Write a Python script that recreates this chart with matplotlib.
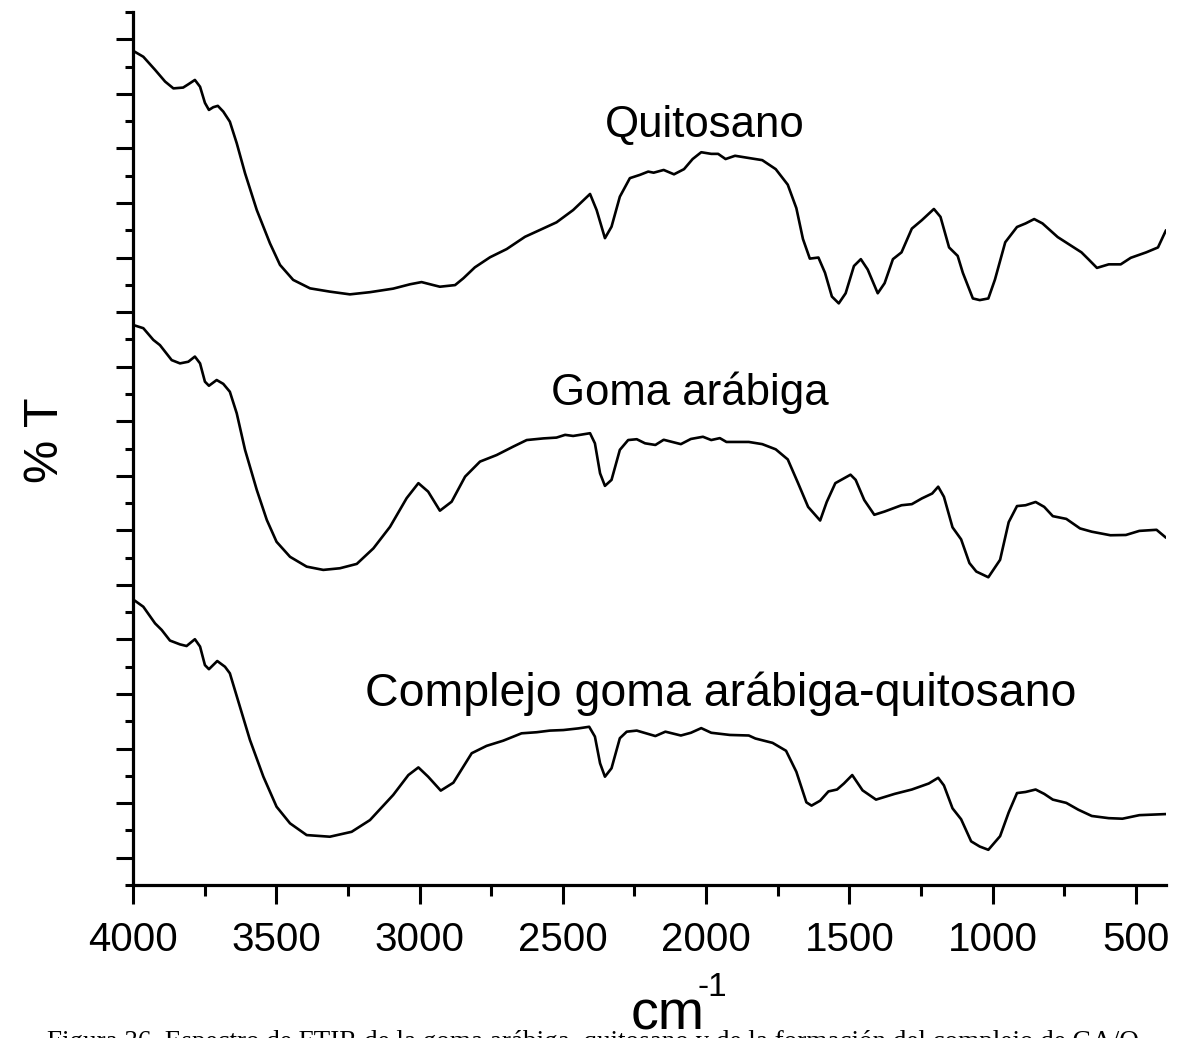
import matplotlib
matplotlib.use("Agg")
import matplotlib.pyplot as plt
from matplotlib.ticker import MultipleLocator, FixedLocator

# ---------------- data ----------------
wn_quitosano = [4000, 3964, 3923, 3888, 3859, 3825, 3807, 3784, 3766, 3749, 3735, 3720, 3704, 3685,
                3662, 3638, 3609, 3568, 3522, 3487, 3441, 3382, 3313, 3243, 3173, 3092, 3033, 2993,
                2952, 2929, 2876, 2847, 2807, 2754, 2696, 2632, 2580, 2522, 2464, 2405, 2382, 2353,
                2330, 2301, 2266, 2231, 2202, 2183, 2148, 2112, 2077, 2047, 2017, 1982, 1958, 1932,
                1899, 1840, 1804, 1757, 1715, 1685, 1662, 1638, 1608, 1585, 1561, 1537, 1513, 1484,
                1460, 1436, 1401, 1377, 1348, 1318, 1282, 1247, 1205, 1182, 1152, 1122, 1104, 1069,
                1045, 1015, 992, 956, 915, 885, 855, 826, 773, 690, 666, 636, 595, 553, 518, 464,
                423, 395]
t_quitosano = [30.58, 30.36, 29.88, 29.45, 29.20, 29.23, 29.35, 29.51, 29.26, 28.67, 28.41, 28.51,
               28.56, 28.35, 27.98, 27.19, 26.09, 24.74, 23.52, 22.73, 22.18, 21.87, 21.75, 21.65,
               21.73, 21.86, 22.02, 22.10, 21.99, 21.93, 21.99, 22.24, 22.64, 23.01, 23.31, 23.76,
               24.01, 24.29, 24.74, 25.33, 24.74, 23.71, 24.13, 25.23, 25.91, 26.03, 26.15, 26.11,
               26.21, 26.05, 26.24, 26.61, 26.86, 26.80, 26.80, 26.61, 26.73, 26.63, 26.57, 26.24,
               25.67, 24.81, 23.68, 22.96, 23.00, 22.44, 21.57, 21.32, 21.69, 22.69, 22.94, 22.56,
               21.69, 22.06, 22.94, 23.19, 24.06, 24.37, 24.78, 24.49, 23.37, 23.06, 22.44, 21.50,
               21.44, 21.50, 22.19, 23.56, 24.12, 24.25, 24.41, 24.25, 23.75, 23.19, 22.94, 22.62,
               22.75, 22.75, 22.99, 23.19, 23.37, 24.00]

wn_goma = [4000, 3964, 3929, 3906, 3865, 3836, 3807, 3784, 3766, 3749, 3735, 3708, 3685, 3662,
           3638, 3609, 3568, 3533, 3499, 3452, 3394, 3336, 3278, 3219, 3161, 3103, 3045, 3004,
           2970, 2929, 2888, 2841, 2789, 2731, 2673, 2626, 2568, 2522, 2492, 2464, 2405, 2388,
           2370, 2353, 2330, 2301, 2272, 2242, 2213, 2177, 2148, 2088, 2053, 2011, 1982, 1952,
           1929, 1851, 1804, 1757, 1715, 1679, 1644, 1602, 1579, 1549, 1496, 1478, 1448, 1413,
           1377, 1318, 1282, 1247, 1211, 1190, 1170, 1140, 1110, 1081, 1057, 1015, 974, 944,
           915, 885, 850, 820, 790, 743, 695, 654, 589, 535, 488, 428, 395]
t_goma = [20.53, 20.41, 19.98, 19.79, 19.24, 19.12, 19.18, 19.37, 19.12, 18.45, 18.30, 18.51, 18.37,
          18.08, 17.29, 15.95, 14.48, 13.38, 12.58, 12.03, 11.67, 11.55, 11.61, 11.77, 12.34, 13.13,
          14.18, 14.73, 14.42, 13.72, 14.05, 14.97, 15.52, 15.76, 16.07, 16.31, 16.37, 16.40, 16.50,
          16.46, 16.56, 16.19, 15.09, 14.63, 14.85, 15.95, 16.31, 16.34, 16.19, 16.13, 16.32, 16.16,
          16.35, 16.43, 16.31, 16.38, 16.24, 16.24, 16.16, 15.97, 15.60, 14.73, 13.86, 13.36, 14.04,
          14.73, 15.04, 14.85, 14.11, 13.57, 13.69, 13.92, 13.96, 14.17, 14.35, 14.60, 14.23, 13.11,
          12.67, 11.80, 11.49, 11.28, 11.92, 13.30, 13.89, 13.92, 14.04, 13.86, 13.52, 13.42, 13.07,
          12.95, 12.82, 12.83, 12.98, 13.02, 12.73]

wn_complejo = [4000, 3964, 3923, 3900, 3871, 3836, 3813, 3784, 3766, 3749, 3735, 3706, 3679, 3662,
               3627, 3592, 3545, 3499, 3452, 3394, 3313, 3237, 3173, 3092, 3039, 3004, 2970, 2926,
               2882, 2818, 2766, 2708, 2644, 2591, 2545, 2498, 2446, 2408, 2388, 2370, 2353, 2330,
               2301, 2277, 2242, 2177, 2142, 2088, 2053, 2017, 1982, 1917, 1851, 1828, 1768, 1721,
               1685, 1650, 1632, 1602, 1573, 1543, 1519, 1490, 1454, 1407, 1342, 1282, 1223, 1190,
               1170, 1140, 1110, 1075, 1045, 1015, 974, 944, 915, 885, 850, 820, 790, 743, 701, 654,
               595, 547, 488, 395]
t_complejo = [10.47, 10.20, 9.59, 9.35, 8.96, 8.82, 8.76, 9.01, 8.74, 8.06, 7.91, 8.21, 8.00, 7.76,
              6.54, 5.32, 3.97, 2.87, 2.26, 1.83, 1.77, 1.95, 2.38, 3.30, 4.03, 4.31, 3.97, 3.46,
              3.75, 4.83, 5.10, 5.29, 5.56, 5.60, 5.66, 5.68, 5.74, 5.80, 5.44, 4.46, 3.97, 4.28,
              5.38, 5.62, 5.66, 5.46, 5.62, 5.48, 5.58, 5.75, 5.58, 5.50, 5.48, 5.37, 5.21, 4.92,
              4.15, 3.03, 2.91, 3.09, 3.43, 3.50, 3.72, 4.03, 3.47, 3.13, 3.34, 3.50, 3.72, 3.93,
              3.65, 2.81, 2.41, 1.60, 1.41, 1.29, 1.79, 2.66, 3.37, 3.41, 3.50, 3.34, 3.13, 3.01,
              2.76, 2.53, 2.45, 2.43, 2.56, 2.60]

labels = ["Quitosano", "Goma arábiga", "Complejo goma arábiga-quitosano"]
label_pos = [(2004, 27.85), (2056, 18.05), (1948, 7.0)]
label_size = [31.5, 31.5, 33.5]
x_ticks = [4000, 3500, 3000, 2500, 2000, 1500, 1000, 500]
caption = ("Figura 36. Espectro de FTIR de la goma arábiga, quitosano y de la "
           "formación del complejo de GA/Q")

# ---------------- figure ----------------
W, H = 1178, 1038
fig = plt.figure(figsize=(W / 100, H / 100), dpi=100)
L, R, T, B = 133, 1166, 12, 885
ax = fig.add_axes([L / W, (H - B) / H, (R - L) / W, (B - T) / H])

font = "Liberation Sans"
for wn, t in [(wn_quitosano, t_quitosano), (wn_goma, t_goma), (wn_complejo, t_complejo)]:
    ax.plot(wn, t, color="black", lw=1.9, solid_joinstyle="round", solid_capstyle="round")

ax.set_xlim(4000, 395)
ax.set_ylim(0, 32)

for s in ["top", "right"]:
    ax.spines[s].set_visible(False)
for s in ["left", "bottom"]:
    ax.spines[s].set_linewidth(2.3)

ax.xaxis.set_major_locator(FixedLocator(x_ticks))
ax.xaxis.set_minor_locator(MultipleLocator(250))
ax.yaxis.set_major_locator(FixedLocator(list(range(1, 32, 2))))
ax.yaxis.set_minor_locator(FixedLocator(list(range(0, 33, 2))))
ax.set_xticklabels([str(v) for v in x_ticks], fontfamily=font, fontsize=29)
ax.set_yticklabels([])
ax.tick_params(axis="x", which="major", direction="out", length=14, width=2.2, pad=12)
ax.tick_params(axis="x", which="minor", direction="out", length=8, width=2.2)
ax.tick_params(axis="y", which="major", direction="out", length=12, width=2.2)
ax.tick_params(axis="y", which="minor", direction="out", length=6, width=2.2)

for lab, (x, y), fs in zip(labels, label_pos, label_size):
    ax.text(x, y, lab, fontfamily=font, fontsize=fs, ha="center", va="center")

fig.text(45 / W, 1 - 440 / H, "% T", rotation=90, fontfamily=font, fontsize=35,
         ha="center", va="center")
fig.text(668 / W, 1 - 1030 / H, "cm", fontfamily=font, fontsize=40,
         ha="center", va="baseline")
fig.text(712 / W, 1 - 988 / H, "-1", fontfamily=font, fontsize=24,
         ha="center", va="center")
fig.text(47 / W, 1 - 1049 / H, caption, fontfamily="Liberation Serif", fontsize=19.5,
         ha="left", va="baseline")

fig.savefig("out.png", dpi=100)
